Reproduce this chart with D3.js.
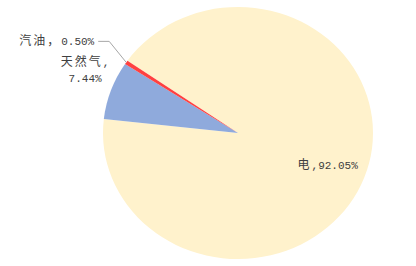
<!DOCTYPE html>
<html><head><meta charset="utf-8">
<script src="https://cdn.jsdelivr.net/npm/d3@7"></script>
<style>
html,body{margin:0;padding:0;background:#fff;}
svg{display:block;}
text{font-family:"Liberation Mono","Noto Sans CJK SC",monospace;font-size:11px;fill:#404040;}
.cjk{font-family:"Noto Sans CJK SC",sans-serif;font-size:12px;letter-spacing:2px;}
</style></head>
<body>
<svg id="c" width="416" height="266"></svg>
<script>
const categories = ["电", "天然气", "汽油"];
const values = [92.05, 7.44, 0.50];
const labelPcts = ["92.05%", "7.44%", "0.50%"];
const colors = ["#FFF2CC", "#8FAADC", "#FF4040"];

const W = 416, H = 266;
const cx = 238, cy = 133, R = 126, sx = 135 / 126;
const svg = d3.select("#c");

const startA = -55 * Math.PI / 180;
const pie = d3.pie().sort(null).startAngle(startA).endAngle(startA + 2 * Math.PI);
const arcs = pie(values);
const arc = d3.arc().innerRadius(0).outerRadius(R);

const g = svg.append("g").attr("transform", `translate(${cx},${cy}) scale(${sx},1)`);
g.selectAll("path").data(arcs).enter().append("path")
  .attr("d", arc)
  .attr("fill", (d, i) => colors[i]);

function pt(angle, r) {
  return [cx + Math.sin(angle) * r * sx, cy - Math.cos(angle) * r];
}
const mid = d => (d.startAngle + d.endAngle) / 2;

function addLabel(parts, x, y, anchor) {
  const t = svg.append("text").attr("x", x).attr("y", y).attr("text-anchor", anchor);
  parts.forEach(p => t.append("tspan").attr("class", p.cjk ? "cjk" : null).text(p.s));
  return t;
}

// 电 label inside
const p0 = pt(mid(arcs[0]), R * 0.71);
addLabel([{s: "电", cjk: true}, {s: ","}, {s: labelPcts[0]}], p0[0], p0[1] + 4, "middle");

// 天然气 label outside (two lines)
const p1 = pt(mid(arcs[1]), R * 1.18);
addLabel([{s: "天然气", cjk: true}, {s: ","}], p1[0] - 3, p1[1] - 17, "middle");
addLabel([{s: labelPcts[1]}], p1[0] - 3, p1[1] - 1, "middle");

// 汽油 label with leader line
const a2 = pt(mid(arcs[2]), R);
const e2 = [a2[0] - 17, a2[1] - 21];
const h2 = [e2[0] - 11, e2[1]];
svg.append("polyline")
  .attr("points", [a2, e2, h2].map(p => p.join(",")).join(" "))
  .attr("fill", "none").attr("stroke", "#A6A6A6").attr("stroke-width", 1);
addLabel([{s: "汽油，", cjk: true}, {s: labelPcts[2]}], h2[0] - 4, h2[1] + 4, "end");
</script>
</body></html>
